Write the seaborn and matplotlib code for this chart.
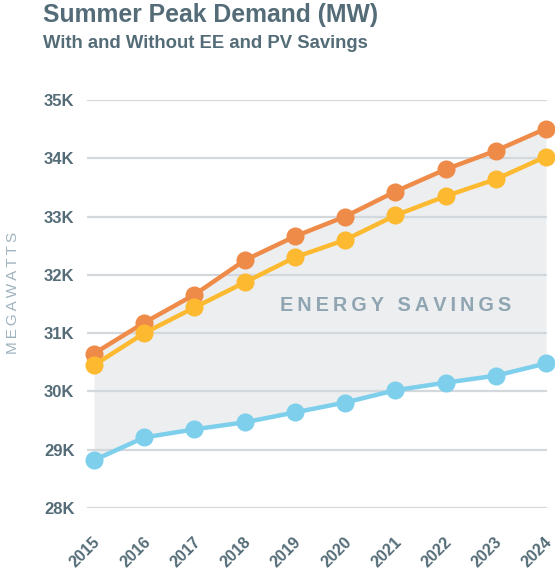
import matplotlib
matplotlib.use("Agg")
import matplotlib.pyplot as plt
import matplotlib.transforms as mtrans
import seaborn as sns
import pandas as pd

years = [2015, 2016, 2017, 2018, 2019, 2020, 2021, 2022, 2023, 2024]
without_savings = [30.65, 31.18, 31.66, 32.25, 32.66, 33.00, 33.43, 33.81, 34.13, 34.51]
with_ee = [30.45, 31.00, 31.44, 31.87, 32.30, 32.60, 33.02, 33.35, 33.64, 34.03]
with_ee_pv = [28.82, 29.21, 29.35, 29.47, 29.64, 29.81, 30.02, 30.15, 30.27, 30.48]
series_names = ["Without EE and PV Savings", "With EE Savings", "With EE and PV Savings"]
colors = ["#ef8b49", "#fdb92f", "#7dcfec"]
y_ticks = [28, 29, 30, 31, 32, 33, 34, 35]
y_tick_labels = ["28K", "29K", "30K", "31K", "32K", "33K", "34K", "35K"]

rows = []
for name, vals in zip(series_names, [without_savings, with_ee, with_ee_pv]):
    for yr, v in zip(years, vals):
        rows.append({"year": yr, "mw": v, "series": name})
df = pd.DataFrame(rows)

sns.set_theme(style="white")
plt.rcParams["font.family"] = ["Liberation Sans", "DejaVu Sans"]

W, H = 555, 573
fig = plt.figure(figsize=(W / 100, H / 100), dpi=100)
ax = fig.add_axes([87 / W, 1 - 508 / H, (547 - 87) / W, (508 - 100) / H])

grid_c = "#d3d8dc"
text_c = "#546c77"

ax.fill_between(years, with_ee_pv, without_savings, color="#eceef0", zorder=0, linewidth=0)

for yv in y_ticks:
    ax.axhline(yv, color=grid_c, lw=1.6, zorder=0.5)

sns.lineplot(data=df, x="year", y="mw", hue="series", hue_order=series_names,
             palette=colors, marker="o", markersize=13, markeredgewidth=0,
             linewidth=3.2, legend=False, ax=ax, clip_on=False, zorder=3)

ax.set_xlim(2015 - 7 / 50.2, 2024 + 1 / 50.2)
ax.set_ylim(28, 35)
ax.set_yticks(y_ticks)
ax.set_yticklabels(y_tick_labels, fontsize=12, fontweight="bold", color=text_c)
ax.set_xticks(years)
ax.set_xticklabels([str(y) for y in years], fontsize=11.5, fontweight="bold",
                   color=text_c, rotation=45, ha="right", va="center",
                   rotation_mode="anchor")
ax.tick_params(axis="y", length=0, pad=9)
ax.tick_params(axis="x", length=8, width=1.6, color=grid_c, pad=15, direction="out")
ax.set_xlabel("")
ax.set_ylabel("")
for s in ax.spines.values():
    s.set_visible(False)

offset = mtrans.ScaledTranslation(4 / 100, 0, fig.dpi_scale_trans)
for lab in ax.get_xticklabels():
    lab.set_transform(lab.get_transform() + offset)

ts = "\u2009"
ax.text(0.671, 0.4975, ts.join("ENERGY SAVINGS"), transform=ax.transAxes,
        ha="center", va="center", fontsize=14.3, fontweight="bold", color="#8fa5b2", zorder=2)

fig.text(13 / W, 1 - 293 / H, ts.join("MEGAWATTS"), rotation=90, ha="center", va="center",
         fontsize=11, color="#9fb3bf")

fig.text(43 / W, 1 - 15 / H, "Summer Peak Demand (MW)", ha="left", va="center",
         fontsize=17.8, fontweight="bold", color=text_c)
fig.text(43 / W, 1 - 44 / H, "With and Without EE and PV Savings", ha="left", va="center",
         fontsize=13.3, fontweight="bold", color=text_c)

fig.savefig("out.png", dpi=100)
